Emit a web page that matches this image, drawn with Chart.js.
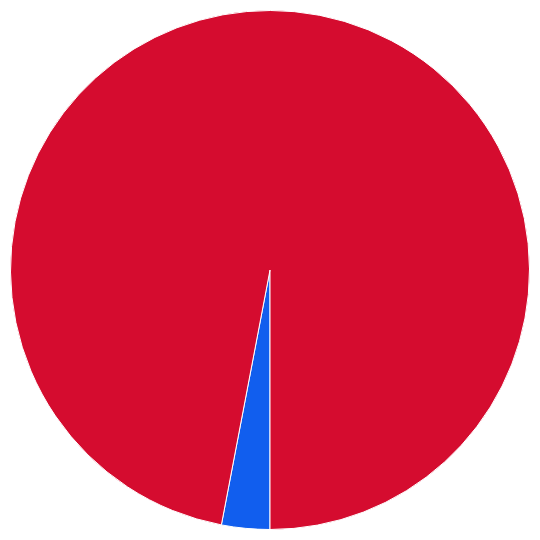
<!DOCTYPE html>
<html><head><meta charset="utf-8">
<script src="https://cdn.jsdelivr.net/npm/chart.js@4"></script>
<style>html,body{margin:0;padding:0;background:#fff}#wrap{width:540px;height:540px}</style>
</head><body><div id="wrap"><canvas id="c"></canvas></div>
<script>
const labels = ["Blue", "Red"];
const values = [3.0, 97.0];
const colors = ["#115EEE", "#D50C2F"];
new Chart(document.getElementById('c'), {
  type: 'pie',
  data: { labels, datasets: [{ data: values, backgroundColor: colors, borderColor: '#ffffff', borderWidth: 1 }] },
  options: {
    responsive: true, maintainAspectRatio: false, animation: false,
    rotation: 180,
    layout: { padding: 10 },
    plugins: { legend: { display: false }, tooltip: { enabled: false } }
  }
});
</script></body></html>
